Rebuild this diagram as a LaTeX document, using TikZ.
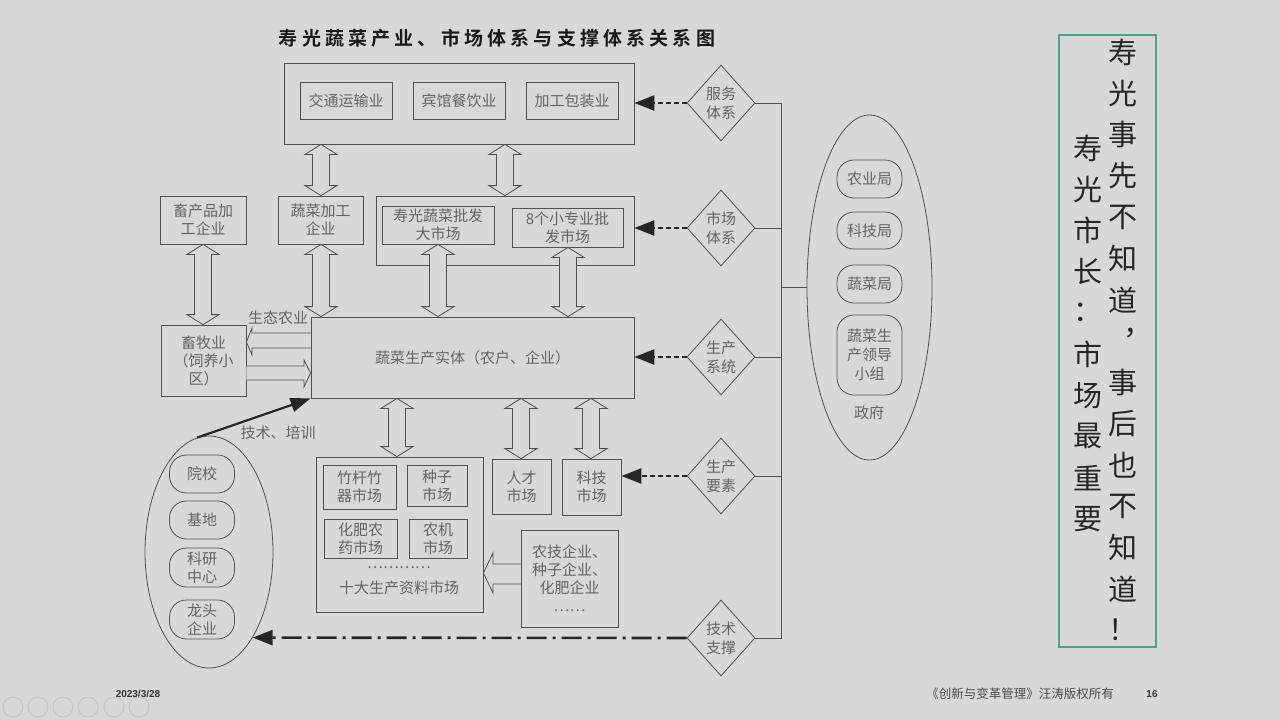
\documentclass[tikz,border=0pt]{standalone}
\usepackage{fontspec}
\setmainfont{Noto Sans CJK SC}[BoldFont={Noto Sans CJK SC Bold}]
\newfontfamily\titlefont[LetterSpace=22]{Noto Sans CJK SC Bold}
\newfontfamily\latinfont{Liberation Sans}
\usetikzlibrary{shapes.geometric,arrows.meta,calc}
\definecolor{slidebg}{RGB}{216,216,216}
\definecolor{linegray}{RGB}{80,80,80}
\definecolor{textgray}{RGB}{100,100,100}
\definecolor{notegreen}{RGB}{78,160,140}
\tikzset{
  box/.style={draw=linegray, line width=0.8pt},
  pill/.style={draw=linegray, line width=0.8pt, rounded corners=17pt, minimum width=65pt},
  diam/.style={diamond, draw=linegray, line width=0.8pt, minimum width=68pt, minimum height=76pt,
    font=\fontsize{15}{19}\selectfont},
  oval/.style={ellipse, draw=linegray, line width=0.8pt},
  twoway/.style={draw=linegray, fill=slidebg, line width=0.8pt},
  blockarrow/.style={draw=linegray, fill=slidebg, line width=0.8pt},
  ctrl/.style={line width=2.6pt, black!85, dash pattern=on 5pt off 3pt, -{Triangle[length=20pt,width=15pt]}},
  techline/.style={line width=2.6pt, black!85, dash pattern=on 20pt off 6pt on 3pt off 6pt, -{Triangle[length=20pt,width=15pt]}},
  train/.style={line width=2.2pt, black!85, -{Triangle[length=20pt,width=14pt]}},
  bus/.style={draw=linegray, line width=0.8pt},
  notechar/.style={text=black!85, font=\fontsize{29}{30}\selectfont}
}
\begin{document}
\begin{tikzpicture}[x=1pt,y=-1pt,
  every node/.style={text=textgray, font=\fontsize{15}{18}\selectfont, align=center, inner sep=0pt}]
  \fill[slidebg] (0,0) rectangle (1280,720);
  \useasboundingbox (0,0) rectangle (1280,720);
  \node[text=black!90, font=\titlefont\fontsize{19}{22}\selectfont] (title) at (497,38)
    {寿光蔬菜产业、市场体系与支撑体系关系图};
  % service layer
  \node[box, minimum width=350pt, minimum height=81pt] (svc) at (459,103.5) {};
  \node[box, minimum width=92pt, minimum height=37pt] (trans) at (346,100.5) {交通运输业};
  \node[box, minimum width=92pt, minimum height=37pt] (hotel) at (459,100.5) {宾馆餐饮业};
  \node[box, minimum width=92pt, minimum height=37pt] (pack) at (572,100.5) {加工包装业};
  % second row
  \node[box, minimum width=86pt, minimum height=48pt] (livproc) at (203,220) {畜产品加\\工企业};
  \node[box, minimum width=85pt, minimum height=48pt] (vegproc) at (320.5,220) {蔬菜加工\\企业};
  \node[box, minimum width=258pt, minimum height=69pt] (mkt) at (505,230.5) {};
  \node[box, minimum width=112pt, minimum height=38pt] (whole) at (438,225) {寿光蔬菜批发\\大市场};
  \node[box, minimum width=111pt, minimum height=39pt] (small8) at (567.5,227.5) {8个小专业批\\发市场};
  % production
  \node[box, minimum width=323pt, minimum height=81pt] (prod) at (472.5,357.5) {蔬菜生产实体（农户、企业）};
  \node[box, minimum width=85pt, minimum height=71pt] (farm) at (203.5,360.5) {畜牧业\\（饲养小\\区）};
  \node (ecolbl) at (278,318) {生态农业};
  \node (trainlbl) at (278,433) {技术、培训};
  % support ellipse
  \node[oval, minimum width=128pt, minimum height=232pt] (edu) at (209,552) {};
  \node[pill, minimum height=38pt] (school) at (202,474) {院校};
  \node[pill, minimum height=38pt] (base) at (202,520) {基地};
  \node[pill, minimum height=39pt] (lab) at (202,567.5) {科研\\中心};
  \node[pill, minimum height=39pt] (dragon) at (202,619.5) {龙头\\企业};
  % input markets
  \node[box, minimum width=167pt, minimum height=155pt] (inputs) at (399.5,534.5) {};
  \node[box, minimum width=73pt, minimum height=44pt] (bamboo) at (359.5,487) {竹杆竹\\器市场};
  \node[box, minimum width=60pt, minimum height=41pt] (seed) at (437,485.5) {种子\\市场};
  \node[box, minimum width=73pt, minimum height=39pt] (fert) at (360.5,538.5) {化肥农\\药市场};
  \node[box, minimum width=58pt, minimum height=39pt] (mach) at (438,538.5) {农机\\市场};
  \node (dots) at (399,568) {…………};
  \node (inputslbl) at (399,588) {十大生产资料市场};
  \node[box, minimum width=59pt, minimum height=55pt] (talent) at (521.5,486.5) {人才\\市场};
  \node[box, minimum width=59pt, minimum height=56pt] (tech) at (591.5,487) {科技\\市场};
  \node[box, minimum width=97pt, minimum height=97pt] (firms) at (569.5,578.5) {农技企业、\\种子企业、\\化肥企业\\……};
  % systems
  \node[diam] (svcsys) at (721,103) {服务\\体系};
  \node[diam] (mktsys) at (721,228) {市场\\体系};
  \node[diam] (prodsys) at (721,357) {生产\\系统};
  \node[diam] (factor) at (721,476) {生产\\要素};
  \node[diam] (techsup) at (721,638) {技术\\支撑};
  % government
  \node[oval, minimum width=125pt, minimum height=345pt] (gov) at (869.5,287.5) {};
  \node[pill, minimum height=38pt] (agri) at (869.5,179) {农业局};
  \node[pill, minimum height=37pt] (scib) at (869.5,230.5) {科技局};
  \node[pill, minimum height=38pt] (vegb) at (869.5,284) {蔬菜局};
  \node[pill, minimum height=80pt, font=\fontsize{15}{19}\selectfont] (lead) at (869.5,355) {蔬菜生\\产领导\\小组};
  \node (govlbl) at (869,413) {政府};
  \coordinate (bus) at (781,0);

  \foreach \xp/\na/\nb in {321/svc/vegproc, 505/svc/mkt, 203/livproc/farm, 321/vegproc/prod,
      438/whole/prod, 568/small8/prod, 397/prod/inputs, 521/prod/talent, 591/prod/tech}
    \draw[twoway] let \p1=(\xp,0), \p2=(\na.south), \p3=(\nb.north) in
      (\x1,\y2) -- (\x1+16pt,\y2-10pt) -- (\x1+8.5pt,\y2-10pt) -- (\x1+8.5pt,\y3+10pt)
      -- (\x1+16pt,\y3+10pt) -- (\x1,\y3) -- (\x1-16pt,\y3+10pt) -- (\x1-8.5pt,\y3+10pt)
      -- (\x1-8.5pt,\y2-10pt) -- (\x1-16pt,\y2-10pt) -- cycle;

  \draw[blockarrow] (prod.west |- 0,333) -- (252,333) -- (252,328) -- (farm.east |- 0,342)
    -- (252,355) -- (252,348) -- (prod.west |- 0,348);
  \draw[blockarrow] (farm.east |- 0,366) -- (304,366) -- (304,360) -- (prod.west |- 0,373)
    -- (304,387) -- (304,380) -- (farm.east |- 0,380);
  \draw[blockarrow] (firms.west |- 0,564) -- (493,564) -- (493,553) -- (inputs.east |- 0,573)
    -- (493,593) -- (493,584) -- (firms.west |- 0,584);

  \draw[ctrl] (svcsys.west) -- (svcsys.west -| svc.east);
  \draw[ctrl] (mktsys.west) -- (mktsys.west -| mkt.east);
  \draw[ctrl] (prodsys.west) -- (prodsys.west -| prod.east);
  \draw[ctrl] (factor.west) -- (factor.west -| tech.east);
  \draw[techline] (techsup.west) -- (edu.-63.4);
  \draw[train] (edu.96) -- (prod.south west);

  \draw[bus] (svcsys.east) -- (svcsys.east -| bus) -- (techsup.east -| bus) -- (techsup.east);
  \draw[bus] (mktsys.east) -- (mktsys.east -| bus);
  \draw[bus] (prodsys.east) -- (prodsys.east -| bus);
  \draw[bus] (factor.east) -- (factor.east -| bus);
  \draw[bus] (gov.west) -- (gov.west -| bus);

  % note on the right
  \node[draw=notegreen, line width=1.6pt, minimum width=97pt, minimum height=612pt] (note) at (1107.5,341) {};
  \foreach \c [count=\i from 0] in {寿,光,事,先,不,知,道,︐,事,后,也,不,知,道,！}
    \node[notechar] (r\i) at (1123,52+41.3*\i) {\c};
  \foreach \c [count=\i from 0] in {寿,光,市,长,：,市,场,最,重,要}
    \node[notechar] (l\i) at (1088,148+41.2*\i) {\c};

  % footer
  \node[text=black!80, font=\latinfont\bfseries\fontsize{10}{12}\selectfont] (date) at (138,694) {2023/3/28};
  \node[text=black!70, font=\fontsize{12.5}{14}\selectfont] (copy) at (1020,694) {《创新与变革管理》汪涛版权所有};
  \node[text=black!80, font=\latinfont\bfseries\fontsize{10}{12}\selectfont] (pageno) at (1152,694) {16};
  \foreach \xp [count=\k] in {13,38,63,88,114,139}
    \node[circle, draw=black!22, line width=1pt, minimum size=20pt] (btn\k) at (\xp,707) {};
\end{tikzpicture}
\end{document}
